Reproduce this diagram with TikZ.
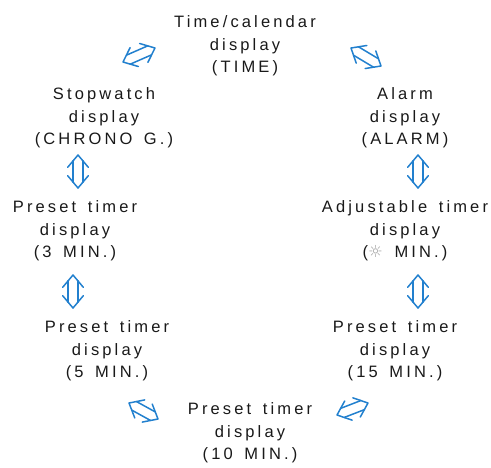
\documentclass[tikz,border=0pt]{standalone}
\usepackage{fontspec}
\setmainfont{Liberation Sans}[LetterSpace=19,WordSpace=1.5]
\newfontfamily\symfont{DejaVu Sans}
\usetikzlibrary{calc}
\definecolor{arrblue}{RGB}{34,128,206}
\tikzset{
  lbl/.style={align=center, inner sep=0pt, font=\fontsize{16.5}{22.5}\selectfont, text=black!90},
  arrline/.style={draw=arrblue, line width=1.5pt, line join=round, line cap=round}
}
% hollow double-headed arrow between two named coordinates
\newcommand\dblarr[2]{%
  \draw[arrline] ($(#1)!16pt!40:(#2)$) -- (#1) -- ($(#1)!16pt!-40:(#2)$);
  \draw[arrline] ($(#2)!16pt!40:(#1)$) -- (#2) -- ($(#2)!16pt!-40:(#1)$);
  \draw[arrline] ($(#1)!7.6pt!40:(#2)$) -- ($(#2)!7.6pt!-40:(#1)$);
  \draw[arrline] ($(#1)!7.6pt!-40:(#2)$) -- ($(#2)!7.6pt!40:(#1)$);
}
\begin{document}
\begin{tikzpicture}[x=1pt,y=-1pt]
\useasboundingbox (0,0) rectangle (491,467);
\node[lbl] (time) at (245,46) {Time/calendar\\display\\(TIME)};
\node[lbl] (stop) at (104,118) {Stopwatch\\display\\(CHRONO G.)};
\node[lbl] (alarm) at (405,118) {Alarm\\display\\(ALARM)};
\node[lbl] (p3) at (75,231) {Preset timer\\display\\(3 MIN.)};
\node[lbl] (adj) at (405,231) {Adjustable timer\\display\\({\symfont\color{black!35}☼} MIN.)};
\node[lbl] (p5) at (107,351) {Preset timer\\display\\(5 MIN.)};
\node[lbl] (p15) at (395,351) {Preset timer\\display\\(15 MIN.)};
\node[lbl] (p10) at (250,433) {Preset timer\\display\\(10 MIN.)};
% arrow end points
\coordinate (a1s) at (123,62); \coordinate (a1e) at (155,48);
\coordinate (a2s) at (351,48); \coordinate (a2e) at (381,66);
\coordinate (a3s) at (78,155); \coordinate (a3e) at (78,188);
\coordinate (a4s) at (418,155); \coordinate (a4e) at (418,188);
\coordinate (a5s) at (73,275); \coordinate (a5e) at (73,308);
\coordinate (a6s) at (418,275); \coordinate (a6e) at (418,308);
\coordinate (a7s) at (129,403); \coordinate (a7e) at (158,419);
\coordinate (a8s) at (337,415); \coordinate (a8e) at (368,403);
\dblarr{a1s}{a1e}
\dblarr{a2s}{a2e}
\dblarr{a3s}{a3e}
\dblarr{a4s}{a4e}
\dblarr{a5s}{a5e}
\dblarr{a6s}{a6e}
\dblarr{a7s}{a7e}
\dblarr{a8s}{a8e}
\end{tikzpicture}
\end{document}
